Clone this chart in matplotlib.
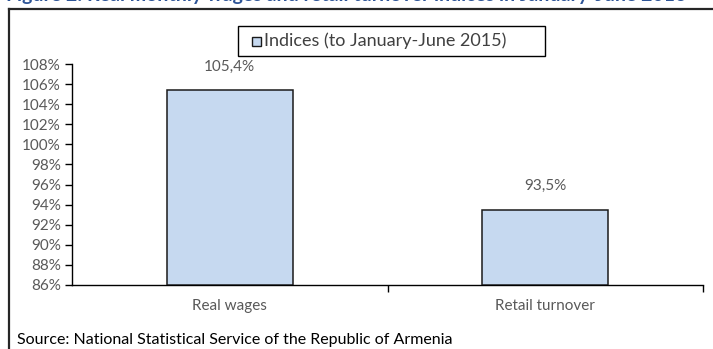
import matplotlib
matplotlib.use("Agg")
import matplotlib.pyplot as plt
from matplotlib.patches import Rectangle
from matplotlib.lines import Line2D
from matplotlib.ticker import FixedLocator, NullFormatter

# Data
categories = ["Real wages", "Retail turnover"]
indices = [105.4, 93.5]
value_labels = ["105,4%", "93,5%"]
y_ticks = [86, 88, 90, 92, 94, 96, 98, 100, 102, 104, 106, 108]
series_name = "Indices (to January-June 2015)"
title_text = "Figure 2: Real monthly wages and retail turnover indices in January-June 2016"
source_text = "Source: National Statistical Service of the Republic of Armenia"

W, H = 713, 349
BAR_FACE = "#C6D9F0"
BAR_EDGE = "#1a1a1a"
TEXT_GRAY = "#595959"

plt.rcParams["font.family"] = ["Lato", "DejaVu Sans"]

fig = plt.figure(figsize=(W / 100, H / 100), dpi=100)


def fx(px):
    return px / W


def fy(py):
    return 1 - py / H


# Plot area
left, right, top, bottom = 72, 703, 64, 285
ax = fig.add_axes([fx(left), fy(bottom), fx(right) - fx(left), fy(top) - fy(bottom)])

x = list(range(len(categories)))
ax.bar(x, [v - y_ticks[0] for v in indices], bottom=y_ticks[0], width=0.4,
       color=BAR_FACE, edgecolor=BAR_EDGE, linewidth=1.1, zorder=3)

ax.set_xlim(-0.5, len(categories) - 0.5)
ax.set_ylim(y_ticks[0], y_ticks[-1])
ax.set_yticks(y_ticks)
ax.set_yticklabels([f"{t}%" for t in y_ticks])

# Category labels centered, tick marks on category boundaries
ax.set_xticks(x)
ax.set_xticklabels(categories)
ax.tick_params(axis="x", which="major", length=0, pad=10, labelsize=11, labelcolor=TEXT_GRAY)
ax.xaxis.set_minor_locator(FixedLocator([i + 0.5 for i in range(len(categories))]))
ax.xaxis.set_minor_formatter(NullFormatter())
ax.tick_params(axis="x", which="minor", length=5, width=1, color="black", direction="out")
ax.tick_params(axis="y", length=5, width=1, color="black", direction="out",
               labelsize=11, labelcolor=TEXT_GRAY, pad=3)

for s in ("top", "right"):
    ax.spines[s].set_visible(False)
for s in ("left", "bottom"):
    ax.spines[s].set_color("black")
    ax.spines[s].set_linewidth(1)

for xi, v, lab in zip(x, indices, value_labels):
    ax.annotate(lab, (xi, v), xytext=(0, 12), textcoords="offset points",
                ha="center", va="bottom", fontsize=11, color=TEXT_GRAY)

# Legend box
lx0, lx1, ly0, ly1 = 238, 545, 26, 56
fig.add_artist(Rectangle((fx(lx0), fy(ly1)), fx(lx1) - fx(lx0), fy(ly0) - fy(ly1),
                         transform=fig.transFigure, facecolor="white",
                         edgecolor="black", linewidth=1))
sq = 9
fig.add_artist(Rectangle((fx(252), fy(45.5)), fx(sq), sq / H, transform=fig.transFigure,
                         facecolor=BAR_FACE, edgecolor=BAR_EDGE, linewidth=1))
fig.text(fx(264), fy(41), series_name, ha="left", va="center",
         fontsize=13, color="#404040")

# Outer frame (top and left edges)
fig.add_artist(Line2D([fx(9), 1], [fy(8.5), fy(8.5)], transform=fig.transFigure,
                      color="#262626", linewidth=1.6))
fig.add_artist(Line2D([fx(9), fx(9)], [fy(8.5), 0], transform=fig.transFigure,
                      color="#262626", linewidth=1.6))

# Heading, clipped by the top of the canvas
fig.text(fx(6), fy(1.5), title_text, ha="left", va="baseline", fontsize=14,
         fontweight="bold", color="#2E5597")

fig.text(fx(17), fy(340), source_text, ha="left", va="center",
         fontsize=11.5, color="black")

fig.savefig("out.png", dpi=100)
